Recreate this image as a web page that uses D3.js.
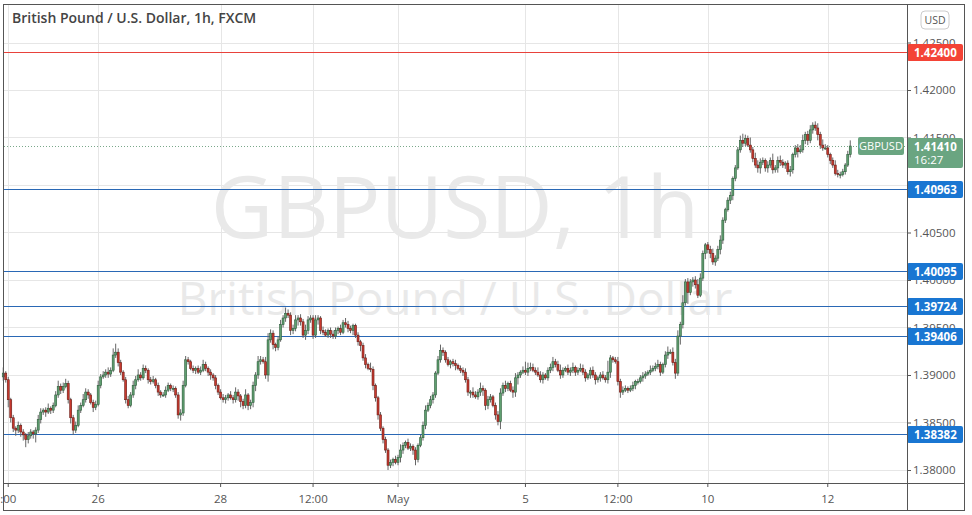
<!DOCTYPE html>
<html>
<head>
<meta charset="utf-8">
<script src="https://cdn.jsdelivr.net/npm/d3@7"></script>
<style>
  body { margin: 0; background: #fff; }
  text { font-family: "Open Sans", "Noto Sans", sans-serif; }
</style>
</head>
<body>
<script>
(function() {
  // hourly closes, GBPUSD FXCM, Apr 22 - May 12
  const closes = [
    1.3902, 1.3895, 1.3874, 1.3855, 1.3844, 1.3842, 1.3847, 1.3840, 1.3837, 1.3832, 1.3836, 1.3840,
    1.3838, 1.3842, 1.3853, 1.3861, 1.3863, 1.3861, 1.3865, 1.3863, 1.3868, 1.3879, 1.3888, 1.3884,
    1.3888, 1.3891, 1.3874, 1.3855, 1.3842, 1.3847, 1.3863, 1.3868, 1.3874, 1.3882, 1.3879, 1.3871,
    1.3866, 1.3869, 1.3889, 1.3898, 1.3900, 1.3903, 1.3901, 1.3905, 1.3921, 1.3924, 1.3913, 1.3903,
    1.3895, 1.3874, 1.3868, 1.3879, 1.3889, 1.3895, 1.3900, 1.3897, 1.3907, 1.3905, 1.3895, 1.3893,
    1.3895, 1.3889, 1.3882, 1.3879, 1.3879, 1.3884, 1.3889, 1.3886, 1.3886, 1.3879, 1.3858, 1.3860,
    1.3889, 1.3916, 1.3914, 1.3907, 1.3905, 1.3907, 1.3903, 1.3905, 1.3911, 1.3907, 1.3903, 1.3900,
    1.3897, 1.3889, 1.3882, 1.3876, 1.3874, 1.3876, 1.3879, 1.3876, 1.3874, 1.3882, 1.3878, 1.3872,
    1.3868, 1.3879, 1.3868, 1.3871, 1.3889, 1.3900, 1.3914, 1.3916, 1.3914, 1.3900, 1.3937, 1.3944,
    1.3932, 1.3929, 1.3937, 1.3953, 1.3960, 1.3965, 1.3963, 1.3947, 1.3949, 1.3958, 1.3960, 1.3956,
    1.3942, 1.3947, 1.3958, 1.3960, 1.3942, 1.3958, 1.3960, 1.3947, 1.3945, 1.3942, 1.3947, 1.3943,
    1.3941, 1.3947, 1.3949, 1.3945, 1.3955, 1.3953, 1.3949, 1.3947, 1.3952, 1.3942, 1.3935, 1.3931,
    1.3918, 1.3911, 1.3907, 1.3906, 1.3889, 1.3876, 1.3858, 1.3844, 1.3832, 1.3821, 1.3805, 1.3808,
    1.3811, 1.3808, 1.3813, 1.3821, 1.3826, 1.3829, 1.3823, 1.3825, 1.3821, 1.3811, 1.3826, 1.3834,
    1.3847, 1.3863, 1.3868, 1.3874, 1.3879, 1.3902, 1.3916, 1.3926, 1.3924, 1.3916, 1.3911, 1.3914,
    1.3912, 1.3910, 1.3907, 1.3905, 1.3903, 1.3895, 1.3882, 1.3882, 1.3879, 1.3877, 1.3882, 1.3886,
    1.3884, 1.3868, 1.3874, 1.3877, 1.3868, 1.3858, 1.3851, 1.3881, 1.3889, 1.3886, 1.3891, 1.3884,
    1.3882, 1.3897, 1.3900, 1.3903, 1.3905, 1.3903, 1.3907, 1.3908, 1.3905, 1.3903, 1.3900, 1.3895,
    1.3900, 1.3897, 1.3905, 1.3908, 1.3914, 1.3911, 1.3905, 1.3900, 1.3905, 1.3907, 1.3903, 1.3905,
    1.3908, 1.3903, 1.3905, 1.3907, 1.3903, 1.3897, 1.3900, 1.3905, 1.3900, 1.3895, 1.3897, 1.3900,
    1.3897, 1.3895, 1.3903, 1.3918, 1.3916, 1.3914, 1.3893, 1.3882, 1.3884, 1.3886, 1.3884, 1.3886,
    1.3889, 1.3893, 1.3893, 1.3897, 1.3899, 1.3901, 1.3903, 1.3905, 1.3907, 1.3909, 1.3911, 1.3903,
    1.3911, 1.3921, 1.3924, 1.3924, 1.3913, 1.3902, 1.3941, 1.3953, 1.3976, 1.3998, 1.3987, 1.3998,
    1.4000, 1.3995, 1.3984, 1.4002, 1.4028, 1.4037, 1.4032, 1.4028, 1.4019, 1.4023, 1.4032, 1.4042,
    1.4063, 1.4074, 1.4084, 1.4089, 1.4107, 1.4118, 1.4137, 1.4147, 1.4144, 1.4149, 1.4142, 1.4137,
    1.4128, 1.4121, 1.4118, 1.4124, 1.4126, 1.4118, 1.4121, 1.4126, 1.4116, 1.4118, 1.4126, 1.4124,
    1.4121, 1.4123, 1.4114, 1.4116, 1.4132, 1.4139, 1.4135, 1.4137, 1.4147, 1.4153, 1.4147, 1.4158,
    1.4163, 1.4160, 1.4153, 1.4142, 1.4139, 1.4139, 1.4132, 1.4126, 1.4121, 1.4112, 1.4111, 1.4111,
    1.4114, 1.4121, 1.4132, 1.4141
  ];
  const firstOpen = 1.3898;
  // wick lengths in pips above / below the body
  const wickUp = [
    6,2,3,2,3,2,4,2,3,2,4,3,2,3,5,4,2,3,5,2,3,4,6,3,4,5,3,2,3,4,5,3,6,4,3,2,3,4,5,3,
    4,3,5,3,7,9,4,3,2,3,4,3,5,4,6,3,4,3,2,3,4,2,3,2,3,4,3,2,3,2,3,4,5,4,3,2,3,2,3,4,
    5,3,2,3,2,3,2,3,4,3,2,4,3,5,3,2,3,6,2,3,4,3,6,4,3,5,7,4,3,2,4,5,3,6,4,3,4,5,3,4,
    3,6,4,3,3,5,3,2,4,3,2,3,4,3,2,4,3,5,4,3,2,2,3,2,3,4,2,6,3,2,2,3,2,3,2,3,2,4,3,6,
    3,2,4,3,2,3,2,3,4,5,3,4,3,2,4,6,3,2,3,2,3,4,2,3,3,4,3,2,5,4,3,6,3,2,4,3,2,3,4,5,
    3,5,2,3,4,5,3,2,4,9,6,5,4,3,5,4,3,2,3,4,5,3,4,6,3,2,4,3,5,2,3,5,4,3,2,3,4,3,2,3,
    4,3,12,3,2,3,5,3,4,3,2,3,4,2,3,3,4,3,2,5,3,4,5,3,2,4,6,3,5,4,6,3,8,3,4,3,3,4,6,5,
    3,2,3,4,5,3,4,5,3,2,3,4,2,3,3,5,7,4,3,8,3,6,5,4,3,2,4,3,7,3,4,5,3,2,3,4,2,3,4,5,
    6,3,4,5,3,4,5,3,6,4,3,2,3,5,4,3,3,2,4,6
  ];
  const wickDn = [
    4,3,8,5,4,6,3,5,6,8,4,3,5,9,3,4,3,5,2,4,3,2,3,4,3,2,4,6,5,3,2,3,2,3,4,2,5,3,2,3,
    2,3,4,3,2,3,4,3,2,4,3,2,3,4,2,3,2,3,4,3,2,3,4,3,2,3,2,3,4,3,4,6,3,2,3,2,3,4,2,3,
    2,3,4,5,3,4,3,2,3,4,3,2,4,3,5,6,4,3,5,4,5,6,4,3,2,4,7,3,5,4,3,2,3,4,3,5,4,3,6,4,
    3,5,4,3,4,3,5,4,3,2,3,4,3,3,4,3,2,3,4,3,5,3,4,6,3,4,2,3,5,4,5,3,4,3,5,3,4,2,3,5,
    4,3,2,3,5,6,3,2,3,4,2,3,4,3,2,3,4,3,2,4,3,5,2,3,4,3,4,6,3,2,3,4,6,5,4,3,2,5,4,8,
    3,4,3,2,6,5,7,3,2,3,4,3,2,3,2,3,4,2,3,3,4,3,2,4,3,2,3,4,3,4,3,2,3,4,2,4,3,5,3,4,
    2,3,4,6,3,2,4,6,3,2,3,2,3,4,3,2,4,3,2,3,2,3,3,4,2,3,4,2,3,6,3,9,4,3,12,3,5,4,3,2,
    3,6,4,5,3,4,3,5,4,3,2,4,5,3,2,3,4,3,2,3,4,3,5,6,3,4,5,3,4,3,5,4,3,4,3,5,4,3,6,2,
    3,4,5,3,4,3,6,4,3,2,3,4,3,2,3,4,2,3,2,3
  ];
  const tickIndex = [2, 38, 87, 124, 158, 209, 246, 282, 330];
  const tickLabels = [':00', '26', '28', '12:00', 'May', '5', '12:00', '10', '12'];
  const priceTicks = [1.380, 1.385, 1.390, 1.395, 1.400, 1.405, 1.410, 1.415, 1.420, 1.425];
  const levels = [1.42400, 1.40963, 1.40095, 1.39724, 1.39406, 1.38382];
  const levelColors = ['#e8423b', '#2a68b5', '#2a68b5', '#2a68b5', '#2a68b5', '#2a68b5'];
  const lastPrice = 1.41410;

  const width = 972;
  const height = 515;
  const plotRight = 907;
  const plotBottom = 483;

  const candles = closes.map(function(c, i) {
    const o = i === 0 ? firstOpen : closes[i - 1];
    return {
      i: i, o: o, c: c,
      h: Math.max(o, c) + wickUp[i] / 10000,
      l: Math.min(o, c) - wickDn[i] / 10000
    };
  });

  const svg = d3.select('body').append('svg').attr('width', width).attr('height', height);

  const xScale = d3.scaleBand()
    .domain(d3.range(closes.length))
    .range([1.75, 1.75 + closes.length * 2.5])
    .padding(0.2);

  const yScale = d3.scaleLinear()
    .domain([1.38, 1.425])
    .range([470, 42.5]);

  const cx = function(i) { return xScale(i) + xScale.bandwidth() / 2; };
  const py = function(d) { return Math.round(yScale(d)) + 0.5; };

  // grid
  svg.append('g').selectAll('line').data(tickIndex).enter().append('line')
    .attr('x1', function(d) { return Math.round(cx(d)) + 0.5; }).attr('x2', function(d) { return Math.round(cx(d)) + 0.5; })
    .attr('y1', 5).attr('y2', plotBottom)
    .attr('stroke', '#e6e6e6');
  svg.append('g').selectAll('line').data(priceTicks).enter().append('line')
    .attr('x1', 4).attr('x2', plotRight)
    .attr('y1', py).attr('y2', py)
    .attr('stroke', '#e6e6e6');

  // watermark
  svg.append('text').attr('x', 455).attr('y', 238).attr('text-anchor', 'middle')
    .attr('font-size', 86).attr('fill', '#e9e9e9').text('GBPUSD, 1h');
  svg.append('text').attr('x', 455).attr('y', 315).attr('text-anchor', 'middle')
    .attr('font-size', 46).attr('fill', '#e9e9e9').text('British Pound / U.S. Dollar');

  // title
  svg.append('text').attr('x', 12).attr('y', 23).attr('font-size', 14).attr('font-weight', 600)
    .attr('fill', '#444').text('British Pound / U.S. Dollar, 1h, FXCM');

  // level lines
  svg.append('g').selectAll('line').data(levels).enter().append('line')
    .attr('x1', 4).attr('x2', plotRight + 4)
    .attr('y1', py).attr('y2', py)
    .attr('stroke-width', 1)
    .attr('stroke', function(d, i) { return levelColors[i]; });

  // last price dotted
  svg.append('line').attr('x1', 4).attr('x2', plotRight)
    .attr('y1', py(lastPrice)).attr('y2', py(lastPrice))
    .attr('stroke', '#7aa88a').attr('stroke-dasharray', '1,2');

  // candles
  const g = svg.append('g');
  g.selectAll('line').data(candles).enter().append('line')
    .attr('x1', function(d) { return cx(d.i); }).attr('x2', function(d) { return cx(d.i); })
    .attr('y1', function(d) { return yScale(d.h); }).attr('y2', function(d) { return yScale(d.l); })
    .attr('stroke', '#666');
  g.selectAll('rect').data(candles).enter().append('rect')
    .attr('x', function(d) { return xScale(d.i); })
    .attr('y', function(d) { return yScale(Math.max(d.o, d.c)); })
    .attr('width', xScale.bandwidth())
    .attr('height', function(d) { return Math.max(1, Math.abs(yScale(d.o) - yScale(d.c))); })
    .attr('fill', function(d) { return d.c >= d.o ? '#5f9f70' : '#c8392e'; })
    .attr('stroke', function(d) { return d.c >= d.o ? '#2f5e3c' : '#6b1e18'; })
    .attr('stroke-width', 0.6);

  // symbol label
  svg.append('rect').attr('x', 858).attr('y', yScale(lastPrice) - 9).attr('width', 46).attr('height', 18)
    .attr('rx', 2).attr('fill', '#6aa581');
  svg.append('text').attr('x', 881).attr('y', yScale(lastPrice) + 4).attr('text-anchor', 'middle')
    .attr('font-size', 11).attr('fill', '#fff').text('GBPUSD');

  // axes (price labels hidden where a tag covers them, as in the original)
  const covered = function(t) {
    return levels.concat([lastPrice]).some(function(l) { return Math.abs(yScale(l) - yScale(t)) < 8; });
  };
  const yAxis = d3.axisRight(yScale).tickValues(priceTicks).tickSize(4).tickFormat(d3.format('.5f'));
  const ya = svg.append('g').attr('transform', 'translate(' + plotRight + ',0)').call(yAxis);
  ya.select('.domain').remove();
  ya.selectAll('line').attr('stroke', '#555');
  ya.selectAll('text').attr('font-size', 11.5).attr('fill', '#555').attr('x', 6)
    .style('font-family', '"Open Sans", sans-serif')
    .style('display', function(d) { return covered(d) ? 'none' : null; });

  const xa = svg.append('g').attr('transform', 'translate(0,' + plotBottom + ')');
  xa.call(d3.axisBottom(xScale).tickValues(tickIndex).tickSize(4)
    .tickFormat(function(d, i) { return tickLabels[i]; }));
  xa.select('.domain').remove();
  xa.selectAll('line').attr('stroke', '#555');
  xa.selectAll('text').attr('font-size', 11.5).attr('fill', '#555').attr('dy', '1.1em')
    .style('font-family', '"Open Sans", sans-serif');

  // level price tags
  const tags = svg.append('g').selectAll('g').data(levels).enter().append('g')
    .attr('transform', function(d) { return 'translate(' + plotRight + ',' + Math.round(yScale(d)) + ')'; });
  tags.append('rect').attr('x', 0).attr('y', -8).attr('width', 56).attr('height', 17).attr('rx', 2)
    .attr('fill', function(d, i) { return i === 0 ? '#f44336' : '#1976d2'; });
  tags.append('text').attr('x', 7).attr('y', 4.5).attr('font-size', 11.5).attr('font-weight', 700)
    .attr('fill', '#fff').text(function(d) { return d3.format('.5f')(d); });

  // last price tag
  const lp = svg.append('g').attr('transform', 'translate(' + plotRight + ',' + yScale(lastPrice) + ')');
  lp.append('rect').attr('x', 0).attr('y', -8).attr('width', 56).attr('height', 30).attr('rx', 2).attr('fill', '#6aa581');
  lp.append('text').attr('x', 7).attr('y', 4.5).attr('font-size', 11.5).attr('font-weight', 700)
    .attr('fill', '#fff').text(d3.format('.5f')(lastPrice));
  lp.append('text').attr('x', 7).attr('y', 18).attr('font-size', 11.5).attr('fill', '#fff').text('16:27');

  // USD box
  svg.append('rect').attr('x', 921).attr('y', 11).attr('width', 28).attr('height', 18).attr('rx', 4)
    .attr('fill', '#fff').attr('stroke', '#ccc');
  svg.append('text').attr('x', 935).attr('y', 24).attr('text-anchor', 'middle').attr('font-size', 10.5)
    .attr('fill', '#555').text('USD');

  // frame
  svg.append('rect').attr('x', 3.5).attr('y', 4.5).attr('width', 961).attr('height', 506)
    .attr('fill', 'none').attr('stroke', '#555');
  svg.append('line').attr('x1', plotRight + 0.5).attr('x2', plotRight + 0.5).attr('y1', 4).attr('y2', 511).attr('stroke', '#555');
  svg.append('line').attr('x1', 3).attr('x2', 965).attr('y1', plotBottom + 0.5).attr('y2', plotBottom + 0.5).attr('stroke', '#555');
})();
</script>
</body>
</html>
